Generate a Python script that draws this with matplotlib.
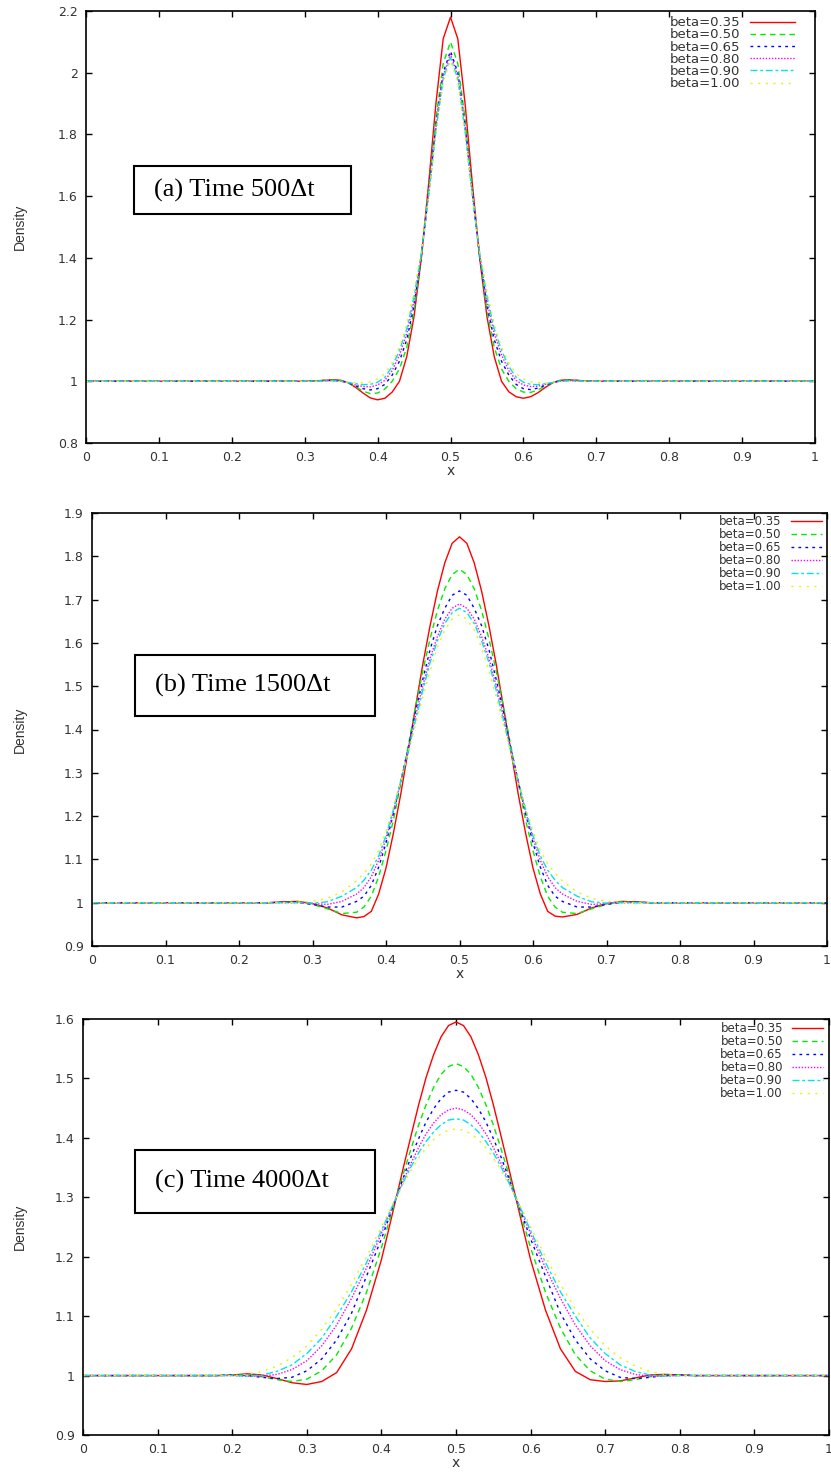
import numpy as np
import matplotlib
matplotlib.use('Agg')
import matplotlib.pyplot as plt
from matplotlib.patches import Rectangle
from matplotlib.ticker import FuncFormatter

betas = ['beta=0.35', 'beta=0.50', 'beta=0.65', 'beta=0.80', 'beta=0.90', 'beta=1.00']

# (a) Time 500 dt
xa = [0.0, 0.30, 0.32, 0.34, 0.35, 0.36, 0.37, 0.38, 0.39, 0.40, 0.41, 0.42, 0.43, 0.44,
      0.45, 0.46, 0.47, 0.48, 0.49, 0.50, 0.51, 0.52, 0.53, 0.54, 0.55, 0.56, 0.57, 0.58,
      0.59, 0.60, 0.61, 0.62, 0.63, 0.64, 0.65, 0.66, 0.68, 0.70, 1.0]
a_035 = [1.0, 1.0, 1.002, 1.005, 1.003, 0.995, 0.98, 0.962, 0.946, 0.94, 0.945, 0.965, 1.00, 1.08,
         1.21, 1.40, 1.64, 1.90, 2.11, 2.18, 2.11, 1.90, 1.64, 1.40, 1.21, 1.08, 1.00, 0.966,
         0.95, 0.945, 0.95, 0.963, 0.98, 0.995, 1.003, 1.005, 1.002, 1.0, 1.0]
a_050 = [1.0, 1.0, 1.002, 1.004, 1.002, 0.995, 0.982, 0.968, 0.96, 0.962, 0.975, 1.00, 1.04, 1.11,
         1.23, 1.40, 1.62, 1.85, 2.03, 2.10, 2.03, 1.85, 1.62, 1.40, 1.23, 1.11, 1.04, 1.00,
         0.976, 0.965, 0.964, 0.972, 0.985, 0.996, 1.002, 1.004, 1.002, 1.0, 1.0]
a_065 = [1.0, 1.0, 1.002, 1.003, 1.001, 0.995, 0.985, 0.976, 0.972, 0.976, 0.99, 1.02, 1.065, 1.135,
         1.245, 1.405, 1.61, 1.83, 2.00, 2.07, 2.00, 1.83, 1.61, 1.405, 1.245, 1.135, 1.065, 1.02,
         0.99, 0.976, 0.973, 0.978, 0.987, 0.996, 1.001, 1.003, 1.002, 1.0, 1.0]
a_080 = [1.0, 1.0, 1.001, 1.002, 1.0, 0.995, 0.988, 0.983, 0.982, 0.988, 1.003, 1.035, 1.085, 1.155,
         1.26, 1.41, 1.605, 1.82, 1.99, 2.06, 1.99, 1.82, 1.605, 1.41, 1.26, 1.155, 1.085, 1.035,
         1.003, 0.988, 0.983, 0.984, 0.99, 0.996, 1.0, 1.002, 1.001, 1.0, 1.0]
a_090 = [1.0, 1.0, 1.001, 1.001, 1.0, 0.996, 0.992, 0.989, 0.99, 0.997, 1.013, 1.048, 1.10, 1.17,
         1.275, 1.415, 1.60, 1.81, 1.98, 2.05, 1.98, 1.81, 1.60, 1.415, 1.275, 1.17, 1.10, 1.048,
         1.013, 0.997, 0.99, 0.989, 0.992, 0.996, 1.0, 1.001, 1.001, 1.0, 1.0]
a_100 = [1.0, 1.0, 1.0, 1.0, 0.999, 0.997, 0.995, 0.995, 0.998, 1.008, 1.025, 1.06, 1.11, 1.185,
         1.29, 1.42, 1.60, 1.80, 1.97, 2.04, 1.97, 1.80, 1.60, 1.42, 1.29, 1.185, 1.11, 1.06,
         1.025, 1.008, 0.998, 0.995, 0.995, 0.997, 0.999, 1.0, 1.0, 1.0, 1.0]

# (b) Time 1500 dt
xb = [0.0, 0.20, 0.22, 0.24, 0.26, 0.28, 0.30, 0.32, 0.34,
      0.36, 0.37, 0.38, 0.39, 0.40, 0.41, 0.42, 0.43, 0.44, 0.45, 0.46, 0.47, 0.48, 0.49, 0.50,
      0.51, 0.52, 0.53, 0.54, 0.55, 0.56, 0.57, 0.58, 0.59, 0.60, 0.61, 0.62, 0.63, 0.64,
      0.66, 0.68, 0.70, 0.72, 0.74, 0.76, 0.78, 0.80, 1.0]
b_035 = [1.0, 1.0, 1.0, 1.0, 1.002, 1.003, 0.998, 0.988, 0.972,
         0.965, 0.968, 0.98, 1.02, 1.08, 1.16, 1.25, 1.35, 1.45, 1.55, 1.64, 1.72, 1.785, 1.83, 1.845,
         1.83, 1.785, 1.72, 1.64, 1.55, 1.45, 1.35, 1.25, 1.16, 1.08, 1.02, 0.98, 0.969, 0.967,
         0.973, 0.988, 0.998, 1.003, 1.002, 1.0, 1.0, 1.0, 1.0]
b_050 = [1.0, 1.0, 1.0, 1.0, 1.001, 1.002, 0.996, 0.986, 0.975,
         0.978, 0.99, 1.015, 1.06, 1.12, 1.19, 1.275, 1.36, 1.45, 1.535, 1.61, 1.675, 1.725, 1.758, 1.77,
         1.758, 1.725, 1.675, 1.61, 1.535, 1.45, 1.36, 1.275, 1.19, 1.12, 1.06, 1.015, 0.99, 0.978,
         0.975, 0.986, 0.996, 1.002, 1.001, 1.0, 1.0, 1.0, 1.0]
b_065 = [1.0, 1.0, 1.0, 1.0, 1.001, 1.001, 0.996, 0.99, 0.99,
         1.003, 1.015, 1.04, 1.082, 1.138, 1.205, 1.28, 1.355, 1.44, 1.515, 1.585, 1.64, 1.68, 1.71, 1.72,
         1.71, 1.68, 1.64, 1.585, 1.515, 1.44, 1.355, 1.28, 1.205, 1.138, 1.082, 1.04, 1.015, 1.003,
         0.99, 0.99, 0.996, 1.001, 1.001, 1.0, 1.0, 1.0, 1.0]
b_080 = [1.0, 1.0, 1.0, 1.0, 1.0, 1.0, 0.998, 0.996, 1.003,
         1.02, 1.035, 1.06, 1.098, 1.148, 1.21, 1.28, 1.35, 1.43, 1.5, 1.565, 1.615, 1.655, 1.68, 1.69,
         1.68, 1.655, 1.615, 1.565, 1.5, 1.43, 1.35, 1.28, 1.21, 1.148, 1.098, 1.06, 1.035, 1.02,
         1.003, 0.996, 0.998, 1.0, 1.0, 1.0, 1.0, 1.0, 1.0]
b_090 = [1.0, 1.0, 1.0, 1.0, 1.0, 1.0, 0.999, 1.002, 1.015,
         1.035, 1.052, 1.075, 1.108, 1.155, 1.215, 1.28, 1.348, 1.42, 1.49, 1.555, 1.605, 1.645, 1.67, 1.68,
         1.67, 1.645, 1.605, 1.555, 1.49, 1.42, 1.348, 1.28, 1.215, 1.155, 1.108, 1.075, 1.052, 1.035,
         1.015, 1.002, 0.999, 1.0, 1.0, 1.0, 1.0, 1.0, 1.0]
b_100 = [1.0, 1.0, 1.0, 1.0, 1.0, 1.001, 1.003, 1.01, 1.025,
         1.05, 1.068, 1.09, 1.12, 1.165, 1.22, 1.28, 1.345, 1.41, 1.475, 1.535, 1.59, 1.63, 1.655, 1.665,
         1.655, 1.63, 1.59, 1.535, 1.475, 1.41, 1.345, 1.28, 1.22, 1.165, 1.12, 1.09, 1.068, 1.05,
         1.025, 1.01, 1.003, 1.001, 1.0, 1.0, 1.0, 1.0, 1.0]

# (c) Time 4000 dt
xc = [0.0, 0.16, 0.18, 0.20, 0.22, 0.24, 0.26, 0.28, 0.30, 0.32, 0.34, 0.36, 0.38,
      0.40, 0.41, 0.42, 0.43, 0.44, 0.45, 0.46, 0.47, 0.48, 0.49, 0.50,
      0.51, 0.52, 0.53, 0.54, 0.55, 0.56, 0.57, 0.58, 0.59, 0.60,
      0.62, 0.64, 0.66, 0.68, 0.70, 0.72, 0.74, 0.76, 0.78, 0.80, 0.82, 0.84, 1.0]
c_035 = [1.0, 1.0, 1.0, 1.001, 1.003, 1.001, 0.995, 0.988, 0.985, 0.99, 1.005, 1.045, 1.11,
         1.195, 1.247, 1.30, 1.353, 1.405, 1.456, 1.502, 1.54, 1.57, 1.589, 1.595,
         1.589, 1.57, 1.54, 1.502, 1.456, 1.405, 1.353, 1.30, 1.247, 1.195,
         1.11, 1.045, 1.007, 0.993, 0.99, 0.991, 0.996, 1.001, 1.002, 1.001, 1.0, 1.0, 1.0]
c_050 = [1.0, 1.0, 1.0, 1.001, 1.001, 0.998, 0.993, 0.99, 0.994, 1.008, 1.035, 1.08, 1.14,
         1.215, 1.258, 1.30, 1.342, 1.383, 1.422, 1.456, 1.485, 1.507, 1.52, 1.525,
         1.52, 1.507, 1.485, 1.456, 1.422, 1.383, 1.342, 1.30, 1.258, 1.215,
         1.14, 1.08, 1.035, 1.008, 0.994, 0.99, 0.993, 0.998, 1.001, 1.001, 1.0, 1.0, 1.0]
c_065 = [1.0, 1.0, 1.0, 1.001, 1.0, 0.997, 0.995, 0.997, 1.008, 1.028, 1.06, 1.105, 1.167,
         1.23, 1.265, 1.30, 1.335, 1.369, 1.399, 1.427, 1.449, 1.466, 1.477, 1.48,
         1.477, 1.466, 1.449, 1.427, 1.399, 1.369, 1.335, 1.30, 1.265, 1.23,
         1.167, 1.105, 1.06, 1.028, 1.008, 0.997, 0.995, 0.997, 1.0, 1.001, 1.0, 1.0, 1.0]
c_080 = [1.0, 1.0, 1.0, 1.0, 0.999, 0.999, 1.002, 1.01, 1.025, 1.05, 1.085, 1.13, 1.181,
         1.239, 1.269, 1.30, 1.33, 1.358, 1.384, 1.407, 1.425, 1.439, 1.447, 1.45,
         1.447, 1.439, 1.425, 1.407, 1.384, 1.358, 1.33, 1.30, 1.269, 1.239,
         1.181, 1.13, 1.085, 1.05, 1.025, 1.01, 1.002, 0.999, 0.999, 1.0, 1.0, 1.0, 1.0]
c_090 = [1.0, 1.0, 1.0, 1.0, 0.999, 1.001, 1.007, 1.018, 1.037, 1.063, 1.10, 1.141, 1.19,
         1.244, 1.272, 1.30, 1.327, 1.352, 1.375, 1.394, 1.41, 1.422, 1.43, 1.432,
         1.43, 1.422, 1.41, 1.394, 1.375, 1.352, 1.327, 1.30, 1.272, 1.244,
         1.19, 1.141, 1.10, 1.063, 1.037, 1.018, 1.007, 1.001, 0.999, 1.0, 1.0, 1.0, 1.0]
c_100 = [1.0, 1.0, 1.0, 1.0, 1.002, 1.007, 1.016, 1.03, 1.05, 1.078, 1.112, 1.154, 1.20,
         1.25, 1.276, 1.30, 1.324, 1.346, 1.366, 1.383, 1.397, 1.407, 1.413, 1.415,
         1.413, 1.407, 1.397, 1.383, 1.366, 1.346, 1.324, 1.30, 1.276, 1.25,
         1.20, 1.154, 1.112, 1.078, 1.05, 1.03, 1.016, 1.007, 1.002, 1.0, 1.0, 1.0, 1.0]

panel_titles = ['(a) Time 500\u0394t', '(b) Time 1500\u0394t', '(c) Time 4000\u0394t']
yticks_a = [0.8, 1.0, 1.2, 1.4, 1.6, 1.8, 2.0, 2.2]
yticks_b = [0.9, 1.0, 1.1, 1.2, 1.3, 1.4, 1.5, 1.6, 1.7, 1.8, 1.9]
yticks_c = [0.9, 1.0, 1.1, 1.2, 1.3, 1.4, 1.5, 1.6]
xticks = [0, 0.1, 0.2, 0.3, 0.4, 0.5, 0.6, 0.7, 0.8, 0.9, 1]

# gnuplot default line types
colors = ['#ff0000', '#00ee00', '#0000ff', '#ff00ff', '#00e5e5', '#f0f000']
dashes = ['-', (0, (4, 3)), (0, (2, 3)), (0, (1, 1.2)), (0, (5, 2, 2, 2)), (0, (1.5, 4))]

W, H = 831, 1477
plt.rcParams['font.family'] = ['DejaVu Sans']


def pix_axes(fig, left, right, top, bottom):
    return fig.add_axes([left / W, 1 - bottom / H, (right - left) / W, (bottom - top) / H])


def draw_panel(ax, x, curves, yticks, title_box, title, leg_anchor, leg_size, leg_hl, leg_sp):
    for y, lab, c, ls in zip(curves, betas, colors, dashes):
        ax.plot(x, y, color=c, linestyle=ls, linewidth=1.0, label=lab)
    ax.set_xlim(0, 1)
    ax.set_ylim(yticks[0], yticks[-1])
    ax.set_xticks(xticks)
    ax.set_yticks(yticks)
    fmt = FuncFormatter(lambda v, p: '%g' % round(v, 2))
    ax.xaxis.set_major_formatter(fmt)
    ax.yaxis.set_major_formatter(fmt)
    ax.tick_params(direction='in', length=4, width=1, top=True, right=True,
                   labelsize=9, labelcolor='#333333', pad=6)
    for s in ax.spines.values():
        s.set_linewidth(1.2)
    ax.set_xlabel('x', fontsize=10, labelpad=0, color='#333333')
    ax.legend(loc='upper right', bbox_to_anchor=leg_anchor, frameon=False, markerfirst=False,
              fontsize=leg_size, handlelength=leg_hl, handletextpad=0.8, labelspacing=leg_sp,
              borderaxespad=0, borderpad=0, labelcolor='#333333')
    # label box
    bx0, bx1, by0, by1 = title_box
    fig = ax.figure
    fig.patches.append(Rectangle((bx0 / W, 1 - by1 / H), (bx1 - bx0) / W, (by1 - by0) / H,
                                 transform=fig.transFigure, fill=True, facecolor='white',
                                 edgecolor='black', linewidth=1.5, zorder=5))
    fig.text((bx0 + 20) / W, 1 - (by0 + by1) / 2 / H, title, fontsize=19,
             family='Liberation Serif', va='center', ha='left', zorder=6)


fig = plt.figure(figsize=(W / 100, H / 100), dpi=100)

ax1 = pix_axes(fig, 86, 815, 11, 443)
draw_panel(ax1, xa, [a_035, a_050, a_065, a_080, a_090, a_100], yticks_a,
           (134, 351, 166, 214), panel_titles[0], (0.973, 0.988), 9.5, 3.4, -0.06)
ax2 = pix_axes(fig, 92, 827, 513, 946)
draw_panel(ax2, xb, [b_035, b_050, b_065, b_080, b_090, b_100], yticks_b,
           (135, 375, 655, 716), panel_titles[1], (0.993, 0.995), 8.5, 2.6, 0.0)
ax3 = pix_axes(fig, 83, 829, 1019, 1435)
draw_panel(ax3, xc, [c_035, c_050, c_065, c_080, c_090, c_100], yticks_c,
           (135, 375, 1150, 1213), panel_titles[2], (0.992, 0.993), 8.5, 2.6, 0.0)

for yc in [227, 730, 1227]:
    fig.text(20 / W, 1 - yc / H, 'Density', rotation=90, fontsize=10, color='#333333',
             va='center', ha='center', family='Liberation Sans')

fig.savefig('out.png', dpi=100)
